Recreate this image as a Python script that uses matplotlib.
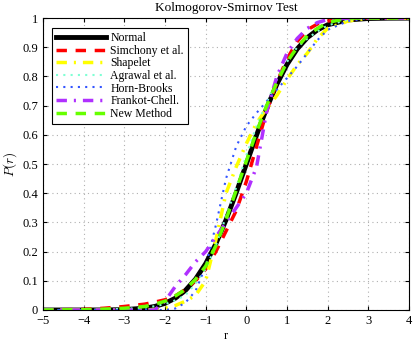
import matplotlib
matplotlib.use("Agg")
import matplotlib.pyplot as plt

plt.rcParams["font.family"] = "serif"
plt.rcParams["font.serif"] = ["Liberation Serif", "DejaVu Serif"]
plt.rcParams["mathtext.fontset"] = "cm"

# common r grid
r = [-5, -4, -3.5, -3, -2.5, -2.25, -2, -1.75, -1.5, -1.25, -1, -0.75, -0.5, -0.25,
     0, 0.25, 0.5, 0.75, 1, 1.25, 1.5, 1.75, 2, 2.5, 3, 3.5, 4]

normal = [0, 0, 0.0002, 0.0013, 0.0062, 0.0122, 0.0228, 0.0401, 0.0668, 0.1056, 0.1587,
          0.2266, 0.3085, 0.4013, 0.5, 0.5987, 0.6915, 0.7734, 0.8413, 0.8944, 0.9332,
          0.9599, 0.9772, 0.9938, 0.9987, 0.9998, 1.0]
simchony = [0, 0.002, 0.006, 0.012, 0.02, 0.027, 0.035, 0.048, 0.07, 0.1, 0.14, 0.2,
            0.27, 0.34, 0.44, 0.56, 0.68, 0.78, 0.86, 0.92, 0.96, 0.98, 0.99, 0.998,
            1.0, 1.0, 1.0]
shapelet = [0, 0, 0, 0, 0, 0.002, 0.006, 0.015, 0.03, 0.05, 0.1, 0.24, 0.4, 0.49,
            0.57, 0.64, 0.69, 0.735, 0.79, 0.84, 0.88, 0.93, 0.965, 0.99, 1.0, 1.0, 1.0]
agrawal = [0, 0, 0.002, 0.004, 0.008, 0.013, 0.02, 0.033, 0.05, 0.09, 0.14, 0.22,
           0.32, 0.42, 0.53, 0.63, 0.71, 0.79, 0.85, 0.9, 0.93, 0.955, 0.975, 0.995,
           1.0, 1.0, 1.0]
horn_brooks = [0, 0, 0, 0, 0, 0, 0, 0.005, 0.025, 0.065, 0.15, 0.29, 0.45, 0.56,
               0.63, 0.675, 0.715, 0.755, 0.795, 0.835, 0.88, 0.925, 0.96, 0.99, 1.0,
               1.0, 1.0]
frankot = [0, 0, 0, 0, 0, 0, 0.03, 0.08, 0.12, 0.165, 0.2, 0.25, 0.3, 0.35, 0.4,
           0.49, 0.68, 0.8, 0.88, 0.93, 0.965, 0.985, 0.995, 1.0, 1.0, 1.0, 1.0]
new_method = [0, 0.001, 0.003, 0.006, 0.012, 0.02, 0.03, 0.048, 0.07, 0.105, 0.15,
              0.22, 0.31, 0.41, 0.51, 0.61, 0.7, 0.78, 0.85, 0.9, 0.94, 0.965, 0.985,
              1.0, 1.0, 1.0, 1.0]

labels = ["Normal", "Simchony et al.", "Shapelet", "Agrawal et al.",
          "Horn-Brooks", "Frankot-Chell.", "New Method"]

fig = plt.figure(figsize=(4.15, 3.42), dpi=100)
ax = fig.add_axes([0.1036, 0.0936, 0.882, 0.8534])

ax.plot(r, normal, color="black", lw=3.5, label=labels[0])
ax.plot(r, simchony, color="#ff0000", lw=2.5, dashes=(3, 2.5), label=labels[1])
ax.plot(r, shapelet, color="#ffff00", lw=2.5, dashes=(3, 2, 0.6, 2), label=labels[2])
ax.plot(r, agrawal, color="#7fffd4", lw=1.5, dashes=(1, 2.5), label=labels[3])
ax.plot(r, horn_brooks, color="#3355ff", lw=1.5, dashes=(1, 2.5), label=labels[4])
ax.plot(r, frankot, color="#b030ff", lw=2.5, dashes=(3, 2, 0.6, 2), label=labels[5])
ax.plot(r, new_method, color="#66ff00", lw=2.5, dashes=(3, 2.5), label=labels[6])

ax.set_xlim(-5, 4)
ax.set_ylim(0, 1)
ax.set_xticks(range(-5, 5))
ax.set_xticklabels(["\u22125", "\u22124", "\u22123", "\u22122", "\u22121",
                    "0", "1", "2", "3", "4"])
ax.set_yticks([i / 10 for i in range(11)])
ax.set_yticklabels(["0", "0.1", "0.2", "0.3", "0.4", "0.5", "0.6", "0.7", "0.8",
                    "0.9", "1"])
ax.tick_params(direction="in", top=True, right=True, labelsize=9, length=3)
ax.grid(True, color="#b0b0b0", linestyle=(0, (1, 3)), lw=0.8)
for s in ax.spines.values():
    s.set_linewidth(0.8)

ax.set_title("Kolmogorov-Smirnov Test", fontsize=9.5, pad=5)
ax.set_xlabel("r", fontsize=9, labelpad=2)
ax.set_ylabel("$P(r)$", fontsize=9.5, labelpad=2)

leg = ax.legend(loc="upper left", bbox_to_anchor=(0.0246, 0.966), fontsize=8.5,
                handlelength=4.2, labelspacing=0.05, borderpad=0.35,
                handletextpad=0.4, borderaxespad=0, fancybox=False, framealpha=1)
leg.get_frame().set_edgecolor("black")
leg.get_frame().set_linewidth(0.8)

fig.savefig("out.png", dpi=100)
